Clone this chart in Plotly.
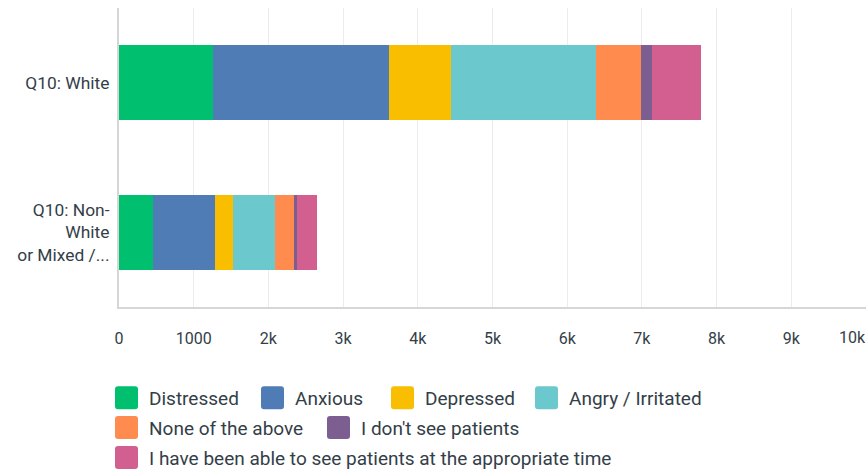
import plotly.graph_objects as go

categories = ["Q10: White", "Q10: Non-<br>White<br>or Mixed /..."]
series_names = ["Distressed", "Anxious", "Depressed", "Angry / Irritated",
                "None of the above", "I don't see patients",
                "I have been able to see patients at the appropriate time"]
series_values = [
    [1257, 455],
    [2353, 828],
    [829, 241],
    [1952, 562],
    [602, 254],
    [147, 40],
    [655, 267],
]
colors = ["#00bf6f", "#507cb6", "#f9be00", "#6bc8cd", "#ff8b4f", "#7d5e90", "#d25f90"]
tick_vals = [0, 1000, 2000, 3000, 4000, 5000, 6000, 7000, 8000, 9000, 10000]
tick_text = ["0", "1000", "2k", "3k", "4k", "5k", "6k", "7k", "8k", "9k", ""]

FONT = "Roboto"
TXT = "#333e48"
W, H = 868, 475
L, R, T, B = 119, 2, 7.5, 167.5

# legend swatch positions in page pixels (left edge, row centre)
legend_pos = [(115, 398.5), (261, 398.5), (391, 398.5), (535, 398.5),
              (115, 428.5), (327, 428.5), (115, 458.5)]

fig = go.Figure()
for name, vals, col in zip(series_names, series_values, colors):
    fig.add_trace(go.Bar(y=categories, x=vals, name=name, orientation="h",
                         showlegend=False,
                         marker=dict(color=col, line=dict(width=0))))

pw, ph = W - L - R, H - T - B


def px_x(px):
    return (px - L) / pw


def px_y(py):
    return (H - B - py) / ph


# legend drawn as rounded swatches + labels (plotly bar swatches are tiny)
s, rr = 23, 3
swatch = (f"M{rr},0 L{s - rr},0 Q{s},0 {s},{rr} L{s},{s - rr} Q{s},{s} {s - rr},{s} "
          f"L{rr},{s} Q0,{s} 0,{s - rr} L0,{rr} Q0,0 {rr},0 Z")
for name, col, (lx, cy) in zip(series_names, colors, legend_pos):
    fig.add_shape(type="path", xref="paper", yref="paper",
                  xsizemode="pixel", ysizemode="pixel",
                  xanchor=px_x(lx), yanchor=px_y(cy + s / 2),
                  path=swatch, fillcolor=col, line=dict(width=0))
    fig.add_annotation(x=px_x(lx + 32), y=px_y(cy + 1), xref="paper", yref="paper",
                       text=name, showarrow=False, xanchor="left", yanchor="middle",
                       font=dict(size=19, family=FONT, color=TXT))

fig.update_layout(
    width=W, height=H,
    barmode="stack", bargap=0.5,
    plot_bgcolor="white", paper_bgcolor="white",
    margin=dict(l=L, r=R, t=T, b=B),
    font=dict(family=FONT, color=TXT),
    showlegend=False,
    xaxis=dict(range=[0, 10000], tickvals=tick_vals, ticktext=tick_text,
               showgrid=True, gridcolor="#ececec", gridwidth=1,
               zeroline=False, showline=True, linecolor="#d6d6d6", linewidth=2,
               ticks="outside", ticklen=16, tickcolor="rgba(0,0,0,0)",
               tickfont=dict(size=16, color=TXT), fixedrange=True),
    yaxis=dict(autorange="reversed", showgrid=False, zeroline=False,
               showline=True, linecolor="#d6d6d6", linewidth=2,
               ticks="outside", ticklen=4, tickcolor="rgba(0,0,0,0)",
               tickfont=dict(size=17.4, color=TXT), fixedrange=True),
)
fig.add_annotation(x=10000, xref="x", y=px_y(338), yref="paper", text="10k",
                   showarrow=False, xanchor="right", yanchor="middle", xshift=2,
                   font=dict(size=16, family=FONT, color=TXT))

# page has a default 8px body margin; remove it so the chart fills the window
fig.write_html("out.html", config={"displayModeBar": False},
               post_script="document.body.style.margin='0';")
